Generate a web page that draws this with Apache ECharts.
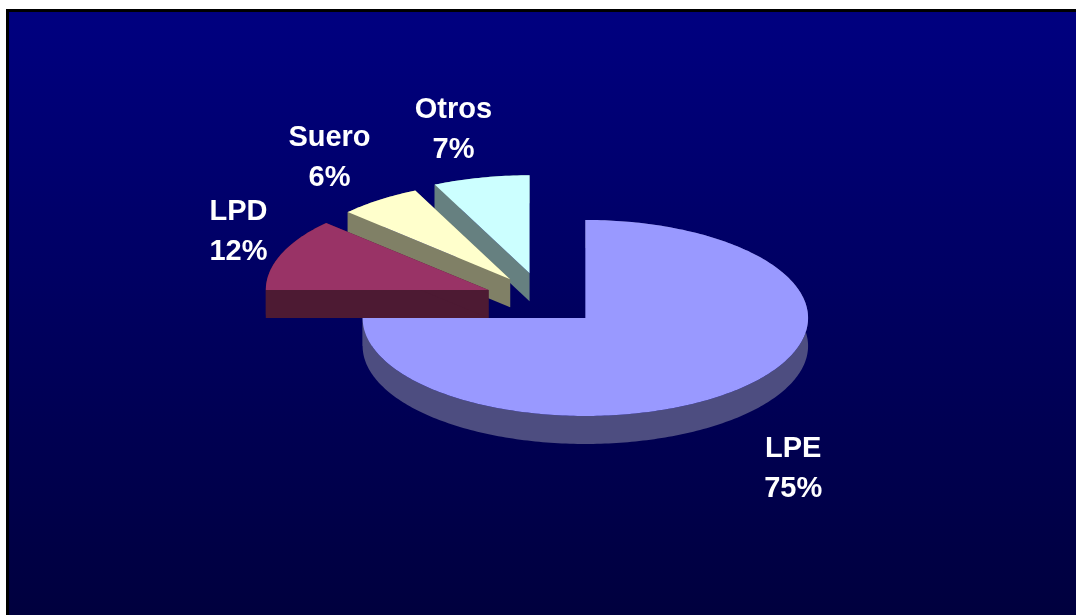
<!DOCTYPE html>
<html>
<head>
<meta charset="utf-8">
<script src="https://cdn.jsdelivr.net/npm/echarts@6/dist/echarts.min.js"></script>
<style>
  html, body { margin: 0; padding: 0; background: #fff; }
  #chart { width: 1076px; height: 615px; }
</style>
</head>
<body>
<div id="chart"></div>
<script>
// data
var categories = ['LPE', 'LPD', 'Suero', 'Otros'];
var shares = [75, 12, 6, 7];

// look
var topColors = ['#9999FF', '#993366', '#FFFFCC', '#CCFFFF'];
var sideColors = ['#4D4D80', '#4D1A33', '#808066', '#668080'];
var exploded = ['LPD', 'Suero', 'Otros'];

var total = shares.reduce(function (a, b) { return a + b; }, 0);
var DEG = Math.PI / 180;

// angle in degrees, clockwise from 12 o'clock
function startAngle(i) {
  var s = 0;
  for (var k = 0; k < i; k++) s += shares[k];
  return s / total * 360;
}

// middle of the exploded group, the pulled slices lean towards it
function groupMid() {
  var lo = 360, hi = 0;
  categories.forEach(function (c, i) {
    if (exploded.indexOf(c) < 0) return;
    lo = Math.min(lo, startAngle(i));
    hi = Math.max(hi, startAngle(i) + shares[i] / total * 360);
  });
  return (lo + hi) / 2;
}

function renderSlice(params, api) {
  var i = params.dataIndex;
  var w = api.getWidth(), h = api.getHeight();
  var rx = w * 0.207, ry = rx * 0.44, depth = 28;
  var cx = w * 0.544, cy = h * 0.517;

  var a0 = startAngle(i);
  var a1 = a0 + api.value(1) / total * 360;
  var mid = (a0 + a1) / 2;

  if (exploded.indexOf(categories[i]) >= 0) {
    var dir = (mid + groupMid()) / 2 * DEG;
    cx += Math.sin(dir) * rx * 0.52;
    cy -= Math.cos(dir) * ry * 0.52;
  }

  function pt(a, r, dy) {
    return [cx + Math.sin(a * DEG) * rx * r, cy - Math.cos(a * DEG) * ry * r + (dy || 0)];
  }

  var arc = [], arcLow = [];
  for (var a = a0; a < a1; a += 1) { arc.push(pt(a, 1)); arcLow.push(pt(a, 1, depth)); }
  arc.push(pt(a1, 1)); arcLow.push(pt(a1, 1, depth));

  var c = [cx, cy], cLow = [cx, cy + depth];
  var side = sideColors[i];
  var z = Math.round(cy) * 2;

  var children = [
    { type: 'polygon', z2: z, shape: { points: arc.concat(arcLow.slice().reverse()) }, style: { fill: side } },
    { type: 'polygon', z2: z, shape: { points: [c, arc[0], arcLow[0], cLow] }, style: { fill: side } },
    { type: 'polygon', z2: z, shape: { points: [c, arc[arc.length - 1], arcLow[arcLow.length - 1], cLow] }, style: { fill: side } },
    { type: 'polygon', z2: z + 1, shape: { points: [c].concat(arc) }, style: { fill: topColors[i] } }
  ];

  // label sits just outside the rim; labels in front get pushed a bit further (perspective)
  var s = Math.sin(mid * DEG), co = Math.cos(mid * DEG);
  var lp = pt(mid, 1.15, co < 0 ? depth : 0);
  lp[0] += s * (117 - 112 * Math.abs(s));
  lp[1] -= co * (50 - 16 * co);
  children.push({
    type: 'text', z2: 1000, x: lp[0], y: lp[1],
    style: {
      text: categories[i] + '\n' + api.value(1) + '%',
      fill: '#FFFFFF',
      font: 'bold 29px "Liberation Sans", Arial, sans-serif',
      lineHeight: 40,
      align: 'center',
      verticalAlign: 'middle'
    }
  });

  return { type: 'group', children: children };
}

var chart = echarts.init(document.getElementById('chart'));
chart.setOption({
  backgroundColor: '#FFFFFF',
  animation: false,
  graphic: [{
    type: 'rect',
    z: 0,
    silent: true,
    shape: { x: 7.5, y: 10.5, width: 1080, height: 620 },
    style: {
      fill: new echarts.graphic.LinearGradient(0, 0, 0, 1, [
        { offset: 0, color: '#000080' },
        { offset: 1, color: '#00003C' }
      ]),
      stroke: '#000000',
      lineWidth: 3
    }
  }],
  series: [{
    type: 'custom',
    coordinateSystem: 'none',
    z: 2,
    renderItem: renderSlice,
    data: categories.map(function (c, i) { return [i, shares[i]]; })
  }]
});
</script>
</body>
</html>
